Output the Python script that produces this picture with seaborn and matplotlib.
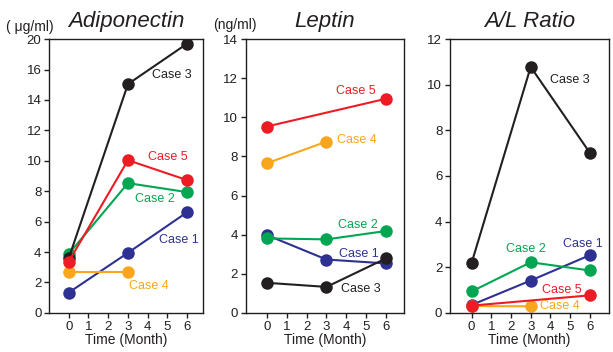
import pandas as pd
import seaborn as sns
import matplotlib.pyplot as plt

# Time points (months)
months = [0, 3, 6]
cases = ['Case 1', 'Case 2', 'Case 3', 'Case 4', 'Case 5']

adipo_case1 = [1.34, 3.95, 6.62]
adipo_case2 = [3.88, 8.53, 7.94]
adipo_case3 = [3.6, 15.04, 17.7]
adipo_case4 = [2.72, 2.72, None]
adipo_case5 = [3.37, 10.04, 8.73]

# Leptin values
leptin_case1 = [3.98, 2.73, 2.53]
leptin_case2 = [3.81, 3.76, 4.19]
leptin_case3 = [1.54, 1.33, 2.79]
leptin_case4 = [7.65, 8.76, None]
leptin_case5 = [9.53, None, 10.95]

# A/L ratio values
ratio_case1 = [0.35, 1.42, 2.53]
ratio_case2 = [0.94, 2.22, 1.86]
ratio_case3 = [2.19, 10.78, 7.02]
ratio_case4 = [0.3, 0.29, None]
ratio_case5 = [0.32, None, 0.77]

# y tick labels (the Adiponectin axis has "20" where 18 would be)
adipo_yticklabels = ['0', '2', '4', '6', '8', '10', '12', '14', '16', '20']

colors = {'Case 1': '#2e3192', 'Case 2': '#00a651', 'Case 3': '#231f20',
          'Case 4': '#f9a61c', 'Case 5': '#ed1c24'}


def long_form(series):
    rows = []
    for case, values in zip(cases, series):
        for m, v in zip(months, values):
            if v is not None:
                rows.append({'Month': m, 'Value': v, 'Case': case})
    return pd.DataFrame(rows)


panels = [
    {'title': 'Adiponectin', 'unit': '( \u03bcg/ml)', 'unit_xy': (30 / 613, 1 - 27 / 352),
     'data': long_form([adipo_case1, adipo_case2, adipo_case3, adipo_case4, adipo_case5]),
     'pos': [0.080, 0.111, 0.251, 0.778], 'xlim': (-1.0, 6.8), 'ylim': (0, 18),
     'yticks': list(range(0, 19, 2)), 'yticklabels': adipo_yticklabels,
     'labels': {'Case 3': (5.2, 15.66), 'Case 5': (5.0, 10.24), 'Case 2': (4.39, 7.48),
                'Case 1': (5.6, 4.8), 'Case 4': (4.08, 1.78)}},
    {'title': 'Leptin', 'unit': '(ng/ml)', 'unit_xy': (235 / 613, 1 - 25 / 352),
     'data': long_form([leptin_case1, leptin_case2, leptin_case3, leptin_case4, leptin_case5]),
     'pos': [0.401, 0.111, 0.258, 0.778], 'xlim': (-1.06, 6.9), 'ylim': (0, 14),
     'yticks': list(range(0, 15, 2)), 'yticklabels': None,
     'labels': {'Case 5': (4.49, 11.37), 'Case 4': (4.52, 8.85), 'Case 2': (4.6, 4.48),
                'Case 1': (4.65, 3.0), 'Case 3': (4.74, 1.23)}},
    {'title': 'A/L Ratio', 'unit': None, 'unit_xy': None,
     'data': long_form([ratio_case1, ratio_case2, ratio_case3, ratio_case4, ratio_case5]),
     'pos': [0.734, 0.111, 0.259, 0.778], 'xlim': (-1.1, 6.96), 'ylim': (0, 12),
     'yticks': list(range(0, 13, 2)), 'yticklabels': None,
     'labels': {'Case 3': (4.98, 10.2), 'Case 2': (2.74, 2.78), 'Case 1': (5.66, 3.04),
                'Case 5': (4.56, 1.02), 'Case 4': (4.48, 0.32)}},
]

sns.set_style('ticks')
plt.rcParams['font.family'] = ['Liberation Sans', 'DejaVu Sans']
plt.rcParams['axes.linewidth'] = 1.0
plt.rcParams['axes.edgecolor'] = '#231f20'

fig = plt.figure(figsize=(6.13, 3.52), dpi=100)

for p in panels:
    ax = fig.add_axes(p['pos'])
    sns.lineplot(data=p['data'], x='Month', y='Value', hue='Case',
                 palette=colors, marker='o', markersize=9, markeredgewidth=0,
                 linewidth=1.5, legend=False, ax=ax)
    ax.set_xlim(*p['xlim'])
    ax.set_ylim(*p['ylim'])
    ax.set_xticks(range(0, 7))
    ax.set_yticks(p['yticks'])
    if p['yticklabels'] is not None:
        ax.set_yticklabels(p['yticklabels'])
    ax.tick_params(direction='out', length=3.5, width=1, labelsize=9.5,
                   colors='#231f20', pad=2)
    ax.set_xlabel('Time (Month)', fontsize=10, labelpad=0, color='#231f20')
    ax.set_ylabel('')
    ax.set_title(p['title'], fontsize=16, style='italic', pad=9, color='#231f20')
    if p['unit']:
        fig.text(p['unit_xy'][0], p['unit_xy'][1], p['unit'], ha='center',
                 va='center', fontsize=10, color='#231f20')
    for case, (lx, ly) in p['labels'].items():
        ax.text(lx, ly, case, ha='center', va='center', fontsize=9,
                color=colors[case])

fig.savefig('out.png', dpi=100)
